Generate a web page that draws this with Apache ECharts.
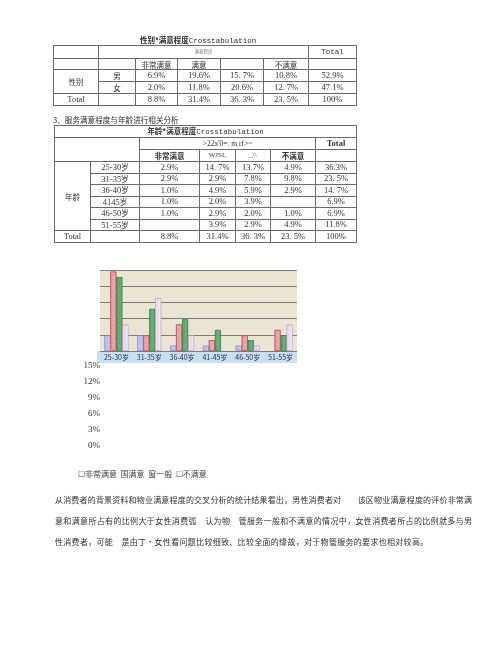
<!DOCTYPE html>
<html><head><meta charset="utf-8">
<script src="https://cdn.jsdelivr.net/npm/echarts@6/dist/echarts.min.js"></script>
<style>
html,body{margin:0;padding:0;background:#fff;width:500px;height:659px;overflow:hidden;}
body{position:relative;font-family:"Liberation Serif","Noto Sans CJK SC",serif;color:#2a2a2a;}
.abs{position:absolute;}
table{border-collapse:collapse;table-layout:fixed;position:absolute;}
td{border:1px solid #6a6a6a;padding:0;text-align:center;font-size:8.5px;line-height:9px;overflow:hidden;white-space:nowrap;color:#333;}
.cn{font-family:"Noto Sans CJK SC",sans-serif;font-size:7.5px;}
.b{font-weight:bold;}
.mono{font-family:"Liberation Mono",monospace;font-size:7.5px;}
.para{position:absolute;left:55px;width:417px;font-family:"Noto Sans CJK SC",sans-serif;font-size:8px;line-height:10px;color:#333;white-space:nowrap;}
.just{text-align:justify;text-align-last:justify;white-space:normal;}
#band{position:absolute;left:97px;top:351px;width:200px;height:12px;background:#cadff1;z-index:0;}
#chart{position:absolute;left:0;top:0;width:500px;height:659px;z-index:1;}
#tables{position:absolute;left:0;top:0;z-index:2;}
</style></head>
<body>
<div id="band"></div>
<div id="chart"></div>
<div id="tables"></div>
<script>
// ---- chart data ----
const categories = ['25-30岁','31-35岁','36-40岁','41-45岁','46-50岁','51-55岁'];
const seriesNames = ['非常满意','满意','一般','不满意'];
const verySatisfied = [2.9, 2.9, 1.0, 1.0, 1.0, null];
const satisfied     = [14.7, 2.9, 4.9, 2.0, 2.9, 3.9];
const neutral       = [13.7, 7.8, 5.9, 3.9, 2.0, 2.9];
const dissatisfied  = [4.9, 9.8, 2.9, null, 1.0, 4.9];
const yTicks = [0, 3, 6, 9, 12, 15];

// ---- table 1 data ----
const t1Title = '性别*满意程度';
const t1Headers = ['非常满意','满意','','不满意'];
const t1Rows = [
  ['男', '6.9%', '19.6%', '15. 7%', '10.8%', '52.9%'],
  ['女', '2.0%', '11.8%', '20.6%', '12. 7%', '47.1%']
];
const t1Total = ['8.8%', '31.4%', '36. 3%', '23. 5%', '100%'];

// ---- table 2 data ----
const sectionHeading = '3、服务满意程度与年龄进行相关分析';
const t2Title = '年龄*满意程度';
const t2Garbled = ">22x'0=. m rf>~";
const t2Headers = ['非常满意','WJSL','_\\\\','不满意'];
const t2AgeLabels = ['25-30岁','31-35岁','36-40岁','4145岁','46-50岁','51-55岁'];
const t2Rows = [
  ['2.9%', '14. 7%', '13.7%', '4.9%', '36.3%'],
  ['2.9%', '2.9%', '7.8%', '9.8%', '23. 5%'],
  ['1.0%', '4.9%', '5.9%', '2.9%', '14. 7%'],
  ['1.0%', '2.0%', '3.9%', '', '6.9%'],
  ['1.0%', '2.9%', '2.0%', '1.0%', '6.9%'],
  ['', '3.9%', '2.9%', '4.9%', '11.8%']
];
const t2Total = ['8.8%', '31.4%', '36. 3%', '23. 5%', '100%'];

// ---- legend / paragraph text ----
const legendText = '☐非常满意  国满意  窗一般  ☐不满意';
const paraLines = [
  '从消费者的背景资料和物业满意程度的交叉分析的统计结果看出，男性消费者对　　该区物业满意程度的评价非常满',
  '意和满意所占有的比例大于女性消费弧　认为物　管服务一般和不满意的情况中，女性消费者所占的比例就多与男',
  '性消费者，可能　是由丁•女性看问题比较细致、比较全面的缘故，对于物管服务的要求也相对较高。'
];

// ---- build HTML parts ----
function colgroup(ws){return '<colgroup>'+ws.map(w=>'<col style="width:'+w+'px">').join('')+'</colgroup>';}
let h = '';
h += '<div class="abs" style="left:140px;top:35px;white-space:nowrap;font-size:7.5px;line-height:10px;"><span class="cn b">'+t1Title+'</span><span class="mono">Crosstabulation</span></div>';
h += '<table style="left:53px;top:45px;width:303px;">'+colgroup([45,37,42,43,43,45,48]);
h += '<tr style="height:13px"><td></td><td colspan="5" style="vertical-align:top;"><span class="cn" style="font-size:4.5px;line-height:5px;color:#777;">满意程度</span></td><td class="mono">Total</td></tr>';
h += '<tr style="height:11px"><td></td><td></td>'+t1Headers.map(x=>'<td class="cn">'+x+'</td>').join('')+'<td></td></tr>';
t1Rows.forEach((r,i)=>{
  h += '<tr style="height:12px">'+(i===0?'<td rowspan="2" class="cn">性别</td>':'')+'<td class="cn">'+r[0]+'</td>'+r.slice(1).map(x=>'<td>'+x+'</td>').join('')+'</tr>';
});
h += '<tr style="height:12px"><td>Total</td><td></td>'+t1Total.map(x=>'<td>'+x+'</td>').join('')+'</tr>';
h += '</table>';

h += '<div class="abs cn" style="left:53px;top:115px;white-space:nowrap;font-size:7.6px;line-height:10px;">'+sectionHeading+'</div>';
h += '<table style="left:54px;top:125px;width:302px;">'+colgroup([36,49,60,36,35,45,41]);
h += '<tr style="height:12px"><td colspan="7"><span class="cn b">'+t2Title+'</span><span class="mono">Crosstabulation</span></td></tr>';
h += '<tr style="height:12px"><td colspan="2" rowspan="2"></td><td colspan="4" style="font-size:7.5px;">'+t2Garbled+'</td><td class="b">Total</td></tr>';
h += '<tr style="height:12px">'+t2Headers.map((x,i)=>'<td class="'+((i===0||i===3)?'cn b':'')+'" style="'+((i===1||i===2)?'font-size:7px;':'')+'">'+x+'</td>').join('')+'<td></td></tr>';
t2Rows.forEach((r,i)=>{
  h += '<tr style="height:11.5px">'+(i===0?'<td rowspan="6" class="cn">年龄</td>':'')+'<td>'+t2AgeLabels[i].replace('岁','<span class="cn">岁</span>')+'</td>'+r.map(x=>'<td>'+x+'</td>').join('')+'</tr>';
});
h += '<tr style="height:12px"><td>Total</td><td></td>'+t2Total.map(x=>'<td>'+x+'</td>').join('')+'</tr>';
h += '</table>';

h += '<div class="abs cn" style="left:78px;top:469px;white-space:pre;font-size:8px;line-height:10px;color:#444;">'+legendText+'</div>';
const paraTops = [495, 516, 537];
paraLines.forEach((t,i)=>{
  h += '<div class="para'+(i<2?' just':'')+'" style="top:'+paraTops[i]+'px;'+(i===2?'letter-spacing:0.3px;':'')+'">'+t+'</div>';
});
document.getElementById('tables').innerHTML = h;

// ---- chart ----
const chart = echarts.init(document.getElementById('chart'), null, {renderer:'canvas'});
const barColors = ['#a3abdf', '#e27f86', '#3f8f52', '#dcc8e2'];
const edge = ['#6f78b8', '#b8545c', '#256b38', '#a894b0'];
function cyl(c){
  return new echarts.graphic.LinearGradient(0,0,1,0,[
    {offset:0,color:echarts.color.lift(c,-0.15)},
    {offset:0.45,color:echarts.color.lift(c,0.25)},
    {offset:1,color:echarts.color.lift(c,-0.25)}]);
}
const seriesData = [verySatisfied, satisfied, neutral, dissatisfied];
chart.setOption({
  backgroundColor:'transparent',
  animation:false,
  grid:[
    {left:100, right:203, top:270, bottom:308, show:true, backgroundColor:'#ebe4d2', borderWidth:0},
    {left:100, top:366, height:80, width:10}
  ],
  xAxis:[
    {type:'category', gridIndex:0, data:categories,
     axisLine:{show:false}, axisTick:{show:false},
     axisLabel:{fontSize:7, color:'#1d2b55', margin:3, fontFamily:'Noto Sans CJK SC', interval:0}},
    {type:'category', gridIndex:1, data:categories, show:false}
  ],
  yAxis:[
    {type:'value', gridIndex:0, min:0, max:15, interval:3,
     axisLabel:{show:false}, axisLine:{show:false}, axisTick:{show:false},
     splitLine:{lineStyle:{color:'#7d7d7d', width:1}}},
    {type:'value', gridIndex:1, min:yTicks[0], max:yTicks[yTicks.length-1], interval:3,
     axisLine:{show:false}, axisTick:{show:false}, splitLine:{show:false},
     axisLabel:{formatter:'{value}%', fontSize:9, color:'#333', margin:0, fontFamily:'Liberation Serif'}}
  ],
  series: seriesNames.map((n,i)=>({
    name:n, type:'bar', xAxisIndex:0, yAxisIndex:0, data:seriesData[i],
    barWidth:6, barGap:'0%',
    itemStyle:{color:cyl(barColors[i]), borderColor:edge[i], borderWidth:0.6,
      decal: i===1 ? {symbol:'rect', symbolSize:0.6, color:'rgba(255,255,255,0.6)', dashArrayX:[1.5,1.5], dashArrayY:[1.5,1.5], rotation:0.5} : null}
  }))
});
</script>
</body></html>
